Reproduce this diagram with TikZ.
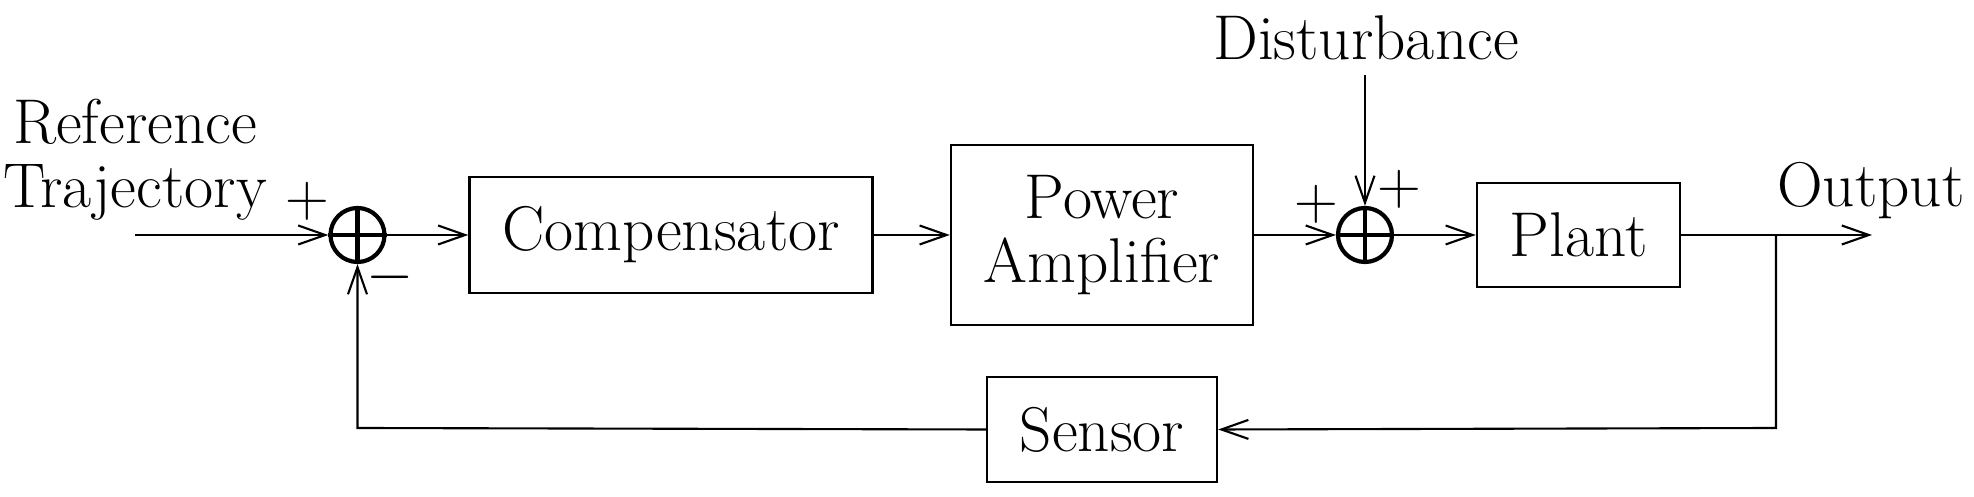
\documentclass[tikz,border=0pt]{standalone}
\usetikzlibrary{arrows.meta}
\begin{document}
\begin{tikzpicture}[x=0.1mm,y=-0.1mm,
  every node/.style={font=\fontsize{18}{18.3}\selectfont},
  blk/.style={draw,line width=0.7pt,inner sep=0pt,align=center},
  sumnode/.style={draw,circle,line width=1.2pt,minimum size=5.4mm,inner sep=0pt},
  lbl/.style={inner sep=0pt,align=center},
  conn/.style={line width=0.6pt},
  arr/.style={conn,-{Straight Barb[length=2.7mm,width=1.9mm,line width=0.6pt]}}]
\useasboundingbox (0,0) rectangle (1974,497);
% blocks
\node[blk,minimum width=40.3mm,minimum height=11.6mm] (comp) at (671,235) {Compensator};
\node[blk,minimum width=30.2mm,minimum height=18mm] (pa) at (1102,235) {Power\\Amplifier};
\node[blk,minimum width=20.3mm,minimum height=10.4mm] (plant) at (1578.5,235) {Plant};
\node[blk,minimum width=23mm,minimum height=10.5mm] (sensor) at (1102,429.5) {Sensor};
% summing junctions
\node[sumnode] (s1) at (357.5,235) {};
\draw[line width=1.2pt] (s1.west) -- (s1.east) (s1.north) -- (s1.south);
\node[sumnode] (s2) at (1365,235) {};
\draw[line width=1.2pt] (s2.west) -- (s2.east) (s2.north) -- (s2.south);
% labels
\node[lbl] (ref) at (135,160) {Reference\\Trajectory};
\node[lbl] (dist) at (1366,38) {Disturbance};
\node[lbl] (outl) at (1871,191) {Output};
\node[lbl] (p1) at (307,201) {$+$};
\node[lbl] (m1) at (390,277) {$-$};
\node[lbl] (p2) at (1316,204) {$+$};
\node[lbl] (p3) at (1399,189) {$+$};
% coordinates
\coordinate (in) at (135,235);
\coordinate (dtop) at (1365,75);
\coordinate (out) at (1872,235);
\coordinate (br) at (1776,235);
\coordinate (brb) at (1776,428);
\coordinate (fb) at (357.5,428);
% connectors
\draw[arr] (in) -- (s1.west);
\draw[arr] (s1.east) -- (comp.west);
\draw[arr] (comp.east) -- (pa.west);
\draw[arr] (pa.east) -- (s2.west);
\draw[arr] (dtop) -- (s2.north);
\draw[arr] (s2.east) -- (plant.west);
\draw[arr] (plant.east) -- (out);
\draw[arr] (br) -- (brb) -- (sensor.east);
\draw[arr] (sensor.west) -- (fb) -- (s1.south);
\end{tikzpicture}
\end{document}
